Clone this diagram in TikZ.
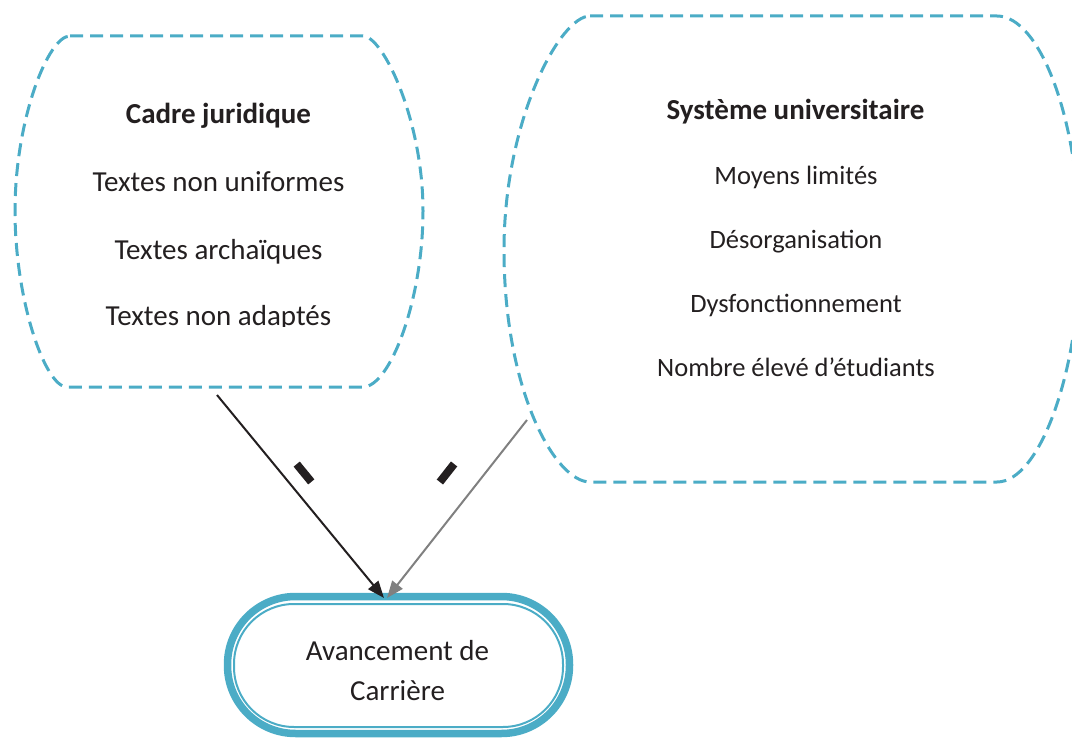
\documentclass[tikz,border=0pt]{standalone}
\usepackage{fontspec}
\setmainfont{Carlito}
\usetikzlibrary{arrows.meta}
\definecolor{aqua}{HTML}{4BACC6}
\definecolor{ink}{HTML}{231F20}
\definecolor{greyline}{HTML}{808080}

\begin{document}
\begin{tikzpicture}[x=1pt,y=-1pt,
  cloud/.style={draw=aqua, line width=3pt, dash pattern=on 13pt off 7pt},
  big/.style={font=\fontsize{29}{35}\selectfont, text=ink, anchor=base, inner sep=0pt},
  bighead/.style={big, font=\fontsize{29}{35}\selectfont\bfseries},
  small/.style={font=\fontsize{26.5}{32}\selectfont, text=ink, anchor=base, inner sep=0pt},
  link/.style={line width=2pt, -{Triangle[length=17pt,width=13pt]}},
  minusbar/.style={fill=ink, minimum width=23pt, minimum height=8pt, inner sep=0pt}
]
\useasboundingbox (0,0) rectangle (1072,738);

% legal framework group
\draw[cloud] (70,36) -- (363,36)
  .. controls (383,36) and (423,120) .. (423,211)
  .. controls (423,300) and (390,387) .. (363,387)
  -- (67,387)
  .. controls (45,387) and (15,300) .. (15,211)
  .. controls (15,120) and (48,36) .. (70,36) -- cycle;
\node[bighead] (cj) at (218.5,123.3) {Cadre juridique};
\node[big] (t1) at (218.5,191.7) {Textes non uniformes};
\node[big] (t2) at (218.5,259.3) {Textes archaïques};
\begin{scope}
  \clip (0,0) rectangle (1072,327);
  \node[big] (t3) at (218.5,326) {Textes non adaptés};
\end{scope}

% university system group
\draw[cloud] (590,16) -- (997,16)
  .. controls (1040,16) and (1080,120) .. (1080,249)
  .. controls (1080,370) and (1040,482) .. (997,482)
  -- (590,482)
  .. controls (555,482) and (504,390) .. (504,250)
  .. controls (504,120) and (560,16) .. (590,16) -- cycle;
\node[bighead] (su) at (795.5,120) {Système universitaire};
\node[small] (s1) at (796,184.5) {Moyens limités};
\node[small] (s2) at (796,248.5) {Désorganisation};
\node[small] (s3) at (796,313) {Dysfonctionnement};
\node[small] (s4) at (796,377) {Nombre élevé d’étudiants};

% outcome
\draw[aqua, line width=7.5pt, rounded corners=68pt] (227.5,596.5) rectangle (569.5,733.5);
\draw[aqua, line width=2pt, rounded corners=60pt] (234,604) rectangle (563,727);
\node[big] (avc1) at (397.5,660) {Avancement de};
\node[big] (avc2) at (397.5,700) {Carrière};

% negative influences
\coordinate (srcL) at (217,395);
\coordinate (srcR) at (527,420);
\coordinate (tipL) at (384,598);
\coordinate (tipR) at (387,598);
\draw[link, draw=ink, fill=ink] (srcL) -- (tipL);
\draw[link, draw=greyline, fill=greyline] (srcR) -- (tipR);
\node[minusbar, rotate=-50.6] (neg1) at (304,473) {};
\node[minusbar, rotate=51.8] (neg2) at (447,473) {};
\end{tikzpicture}
\end{document}
